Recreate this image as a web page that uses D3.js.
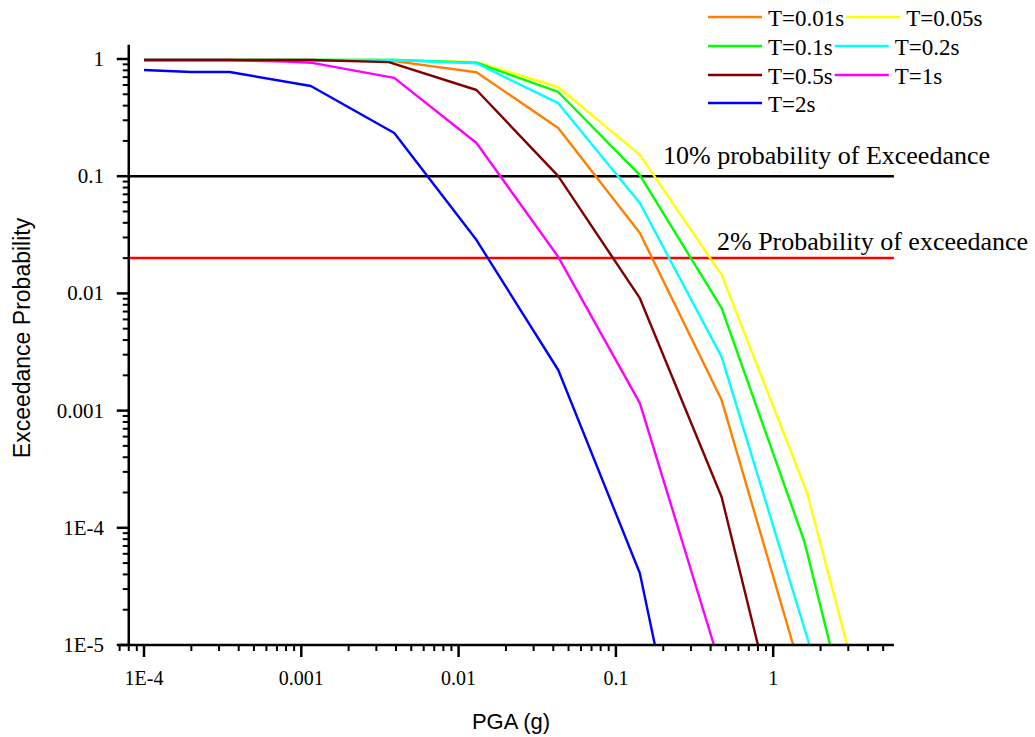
<!DOCTYPE html>
<html>
<head>
<meta charset="utf-8">
<script src="https://cdn.jsdelivr.net/npm/d3@7"></script>
<style>
body { margin: 0; background: #fff; }
text { fill: #000; }
.serif { font-family: "Liberation Serif", "Times New Roman", serif; }
.sans { font-family: "Liberation Sans", Arial, sans-serif; }
</style>
</head>
<body>
<div id="chart"></div>
<script>
// PGA (g) and exceedance probability for each period
let pga_T001 = [1e-4, 3.5e-4, 1.15e-3, 3.9e-3, 0.013, 0.043, 0.142, 0.47, 1.34]
let prob_T001 = [0.98, 0.98, 0.98, 0.96, 0.77, 0.258, 0.0328, 0.00123, 1e-5]
let pga_T005 = [1e-4, 3.5e-4, 1.15e-3, 3.9e-3, 0.013, 0.043, 0.142, 0.47, 1.64, 2.95]
let prob_T005 = [0.98, 0.98, 0.98, 0.98, 0.94, 0.577, 0.152, 0.0144, 2.0e-4, 1e-5]
let pga_T01 = [1e-4, 3.5e-4, 1.15e-3, 3.9e-3, 0.013, 0.043, 0.142, 0.47, 1.58, 2.3]
let prob_T01 = [0.98, 0.98, 0.98, 0.98, 0.93, 0.523, 0.102, 0.0075, 7.6e-5, 1e-5]
let pga_T02 = [1e-4, 3.5e-4, 1.15e-3, 3.9e-3, 0.013, 0.043, 0.142, 0.47, 1.7]
let prob_T02 = [0.98, 0.98, 0.98, 0.98, 0.92, 0.42, 0.059, 0.00287, 1e-5]
let pga_T05 = [1e-4, 3.5e-4, 1.15e-3, 3.6e-3, 0.013, 0.043, 0.142, 0.47, 0.8]
let prob_T05 = [0.98, 0.98, 0.98, 0.94, 0.544, 0.10, 0.0091, 1.83e-4, 1e-5]
let pga_T1 = [1e-4, 3.5e-4, 8.1e-4, 1.15e-3, 3.9e-3, 0.013, 0.043, 0.142, 0.42]
let prob_T1 = [0.98, 0.98, 0.95, 0.93, 0.69, 0.192, 0.0205, 0.00116, 1e-5]
let pga_T2 = [1e-4, 2e-4, 3.5e-4, 1.15e-3, 3.9e-3, 0.013, 0.043, 0.142, 0.177]
let prob_T2 = [0.805, 0.775, 0.775, 0.588, 0.234, 0.0285, 0.00222, 4.1e-5, 1e-5]

let series_names = ['T=0.01s', 'T=0.05s', 'T=0.1s', 'T=0.2s', 'T=0.5s', 'T=1s', 'T=2s']
let series_colors = ['#ff8000', '#ffff00', '#00ff00', '#00ffff', '#800000', '#ff00ff', '#0000ff']
let series_pga = [pga_T001, pga_T005, pga_T01, pga_T02, pga_T05, pga_T1, pga_T2]
let series_prob = [prob_T001, prob_T005, prob_T01, prob_T02, prob_T05, prob_T1, prob_T2]
let draw_order = [0, 1, 2, 3, 5, 4, 6]

let x_ticks = [1e-4, 1e-3, 1e-2, 1e-1, 1]
let x_tick_labels = ['1E-4', '0.001', '0.01', '0.1', '1']
let y_ticks = [1e-5, 1e-4, 1e-3, 1e-2, 1e-1, 1]
let y_tick_labels = ['1E-5', '1E-4', '0.001', '0.01', '0.1', '1']

let ref_values = [0.1, 0.02]
let ref_colors = ['#000000', '#ff0000']
let ref_labels = ['10% probability of Exceedance', '2% Probability of exceedance']

let width = 1035
let height = 737
let x_min = 7e-5, x_max = 5.85, y_top = 1.32

let svg = d3.select('#chart').append('svg').attr('width', width).attr('height', height)

let x = d3.scaleLog().domain([1e-4, 1]).range([144, 773.2])
let y = d3.scaleLog().domain([1e-5, 1]).range([645, 59])
let y_axis_x = x(8e-5)

// reference lines
ref_values.forEach((v, i) => {
    svg.append('line').attr('x1', y_axis_x).attr('x2', x(x_max)).attr('y1', y(v)).attr('y2', y(v))
        .attr('stroke', ref_colors[i]).attr('stroke-width', 2.5)
})
svg.append('text').attr('class', 'serif').attr('x', 663).attr('y', 164).style('font-size', '26px').text(ref_labels[0])
svg.append('text').attr('class', 'serif').attr('x', 717).attr('y', 250).style('font-size', '26px').text(ref_labels[1])

// curves
let line = d3.line().x(d => x(d[0])).y(d => y(d[1]))
draw_order.forEach(i => {
    let pts = series_pga[i].map((p, j) => [p, series_prob[i][j]])
    svg.append('path').datum(pts).attr('d', line).attr('fill', 'none')
        .attr('stroke', series_colors[i]).attr('stroke-width', 2.4).attr('stroke-linejoin', 'round')
})

// axes lines
svg.append('line').attr('x1', x(x_min)).attr('x2', x(x_max)).attr('y1', y(1e-5)).attr('y2', y(1e-5))
    .attr('stroke', '#000').attr('stroke-width', 2.5)
svg.append('line').attr('x1', y_axis_x).attr('x2', y_axis_x).attr('y1', y(y_top)).attr('y2', y(1e-5))
    .attr('stroke', '#000').attr('stroke-width', 2.5)

// x ticks
let x_minor = []
for (let e = -5; e <= 0; e++) {
    for (let m = 2; m <= 9; m++) {
        let v = m * Math.pow(10, e)
        if (v >= x_min && v <= x_max) x_minor.push(v)
    }
}
svg.selectAll('.xminor').data(x_minor).enter().append('line').attr('class', 'xminor')
    .attr('x1', d => x(d)).attr('x2', d => x(d)).attr('y1', 645).attr('y2', 651)
    .attr('stroke', '#000').attr('stroke-width', 2)
svg.selectAll('.xmajor').data(x_ticks).enter().append('line').attr('class', 'xmajor')
    .attr('x1', d => x(d)).attr('x2', d => x(d)).attr('y1', 645).attr('y2', 657)
    .attr('stroke', '#000').attr('stroke-width', 2.5)
svg.selectAll('.xlab').data(x_ticks).enter().append('text').attr('class', 'serif')
    .attr('x', d => x(d)).attr('y', 685).attr('text-anchor', 'middle').style('font-size', '20px')
    .text((d, i) => x_tick_labels[i])

// y ticks
let y_minor = []
for (let e = -5; e <= -1; e++) {
    for (let m = 2; m <= 9; m++) y_minor.push(m * Math.pow(10, e))
}
svg.selectAll('.yminor').data(y_minor).enter().append('line').attr('class', 'yminor')
    .attr('x1', y_axis_x - 6).attr('x2', y_axis_x).attr('y1', d => y(d)).attr('y2', d => y(d))
    .attr('stroke', '#000').attr('stroke-width', 2)
svg.selectAll('.ymajor').data(y_ticks).enter().append('line').attr('class', 'ymajor')
    .attr('x1', y_axis_x - 12).attr('x2', y_axis_x).attr('y1', d => y(d)).attr('y2', d => y(d))
    .attr('stroke', '#000').attr('stroke-width', 2.5)
svg.selectAll('.ylab').data(y_ticks).enter().append('text').attr('class', 'serif')
    .attr('x', 104).attr('y', d => y(d) + 7).attr('text-anchor', 'end').style('font-size', '21px')
    .text((d, i) => y_tick_labels[i])

// axis titles
svg.append('text').attr('class', 'sans').attr('x', 511).attr('y', 729).attr('text-anchor', 'middle')
    .style('font-size', '22px').text('PGA (g)')
svg.append('text').attr('class', 'sans').attr('transform', 'translate(30, 338) rotate(-90)')
    .attr('text-anchor', 'middle').style('font-size', '23px').text('Exceedance Probability')

// legend
let legend_rows = [[0, 1], [2, 3], [4, 5], [6]]
let row_y = [17, 46, 75, 103]
legend_rows.forEach((row, r) => {
    let lx = 708
    row.forEach(i => {
        svg.append('line').attr('x1', lx).attr('x2', lx + 54).attr('y1', row_y[r]).attr('y2', row_y[r])
            .attr('stroke', series_colors[i]).attr('stroke-width', 2.5)
        let t = svg.append('text').attr('class', 'serif').attr('x', lx + 60).attr('y', row_y[r] + 9)
            .style('font-size', '23px').text(series_names[i])
        lx = lx + 60 + t.node().getComputedTextLength() + 2
    })
})
</script>
</body>
</html>
